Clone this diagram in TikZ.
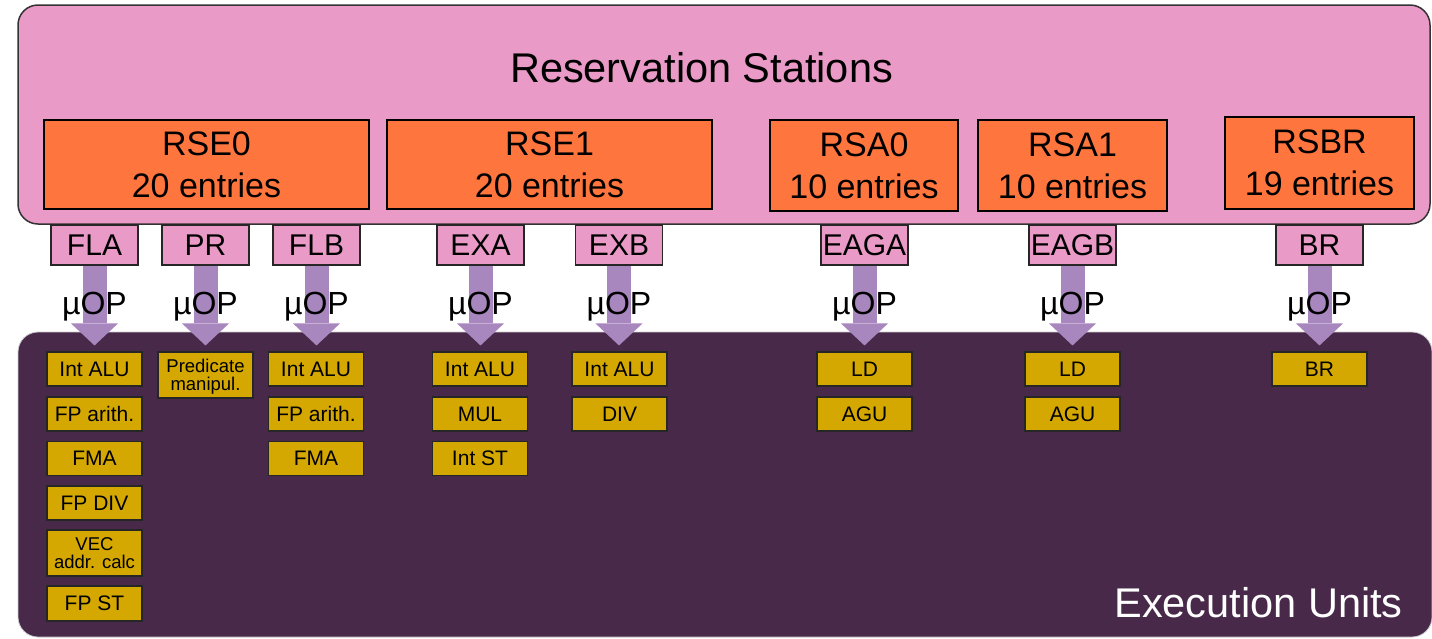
\documentclass[tikz,border=0pt]{standalone}
\usepackage{fontspec}
\setmainfont{Liberation Sans}
\usetikzlibrary{arrows.meta}
\definecolor{pinkbg}{RGB}{233,154,199}
\definecolor{rsorange}{RGB}{255,117,62}
\definecolor{arrowc}{RGB}{168,134,190}
\definecolor{darkp}{RGB}{73,41,74}
\definecolor{gold}{RGB}{212,168,0}
\begin{document}
\begin{tikzpicture}[x=1pt,y=-1pt,
  rsbox/.style={draw=black, line width=1.6pt, fill=rsorange, inner sep=0pt, align=center, font=\fontsize{34}{42}\selectfont},
  port/.style={draw=black!85, line width=1.3pt, fill=pinkbg, minimum width=87pt, minimum height=40pt, inner sep=0pt, font=\fontsize{30}{36}\selectfont},
  unit/.style={draw=black!85, line width=1.1pt, fill=gold, minimum width=95pt, minimum height=34pt, inner sep=0pt, align=center, font=\fontsize{21}{17}\selectfont},
  unitt/.style={unit, minimum height=46pt, font=\fontsize{18.5}{18.5}\selectfont, text depth=0pt},
  uop/.style={draw=arrowc, line width=24pt, -{Triangle[width=47pt,length=22pt,line width=0pt]}, shorten >=6pt},
  uoplbl/.style={font=\fontsize{32}{38}\selectfont, anchor=base, pos=0.575, inner sep=0pt, text=black}
]
\useasboundingbox (0,0) rectangle (1432,638);
% containers
\node[draw=black!80, line width=1.5pt, fill=pinkbg, rounded corners=20pt, minimum width=1412pt, minimum height=219pt, inner sep=0pt] (rsarea) at (724,114.5) {};
\node[draw=black!20, line width=0.8pt, fill=darkp, rounded corners=20pt, minimum width=1414pt, minimum height=305pt, inner sep=0pt] (euarea) at (725,484.5) {};
\node[font=\fontsize{41.5}{48}\selectfont, anchor=base, inner sep=0pt] (rstitle) at (701.5,82) {Reservation Stations};
\node[font=\fontsize{41.5}{48}\selectfont, text=white, anchor=base east, inner sep=0pt] (eutitle) at (1403,617) {Execution Units};
% reservation stations
\node[rsbox, minimum width=325pt, minimum height=89pt] (rse0) at (206.5,164.5) {RSE0\\20 entries};
\node[rsbox, minimum width=325pt, minimum height=89pt] (rse1) at (549.5,164.5) {RSE1\\20 entries};
\node[rsbox, minimum width=188pt, minimum height=91pt] (rsa0) at (864,165.5) {RSA0\\10 entries};
\node[rsbox, minimum width=189pt, minimum height=91pt] (rsa1) at (1072.5,165.5) {RSA1\\10 entries};
\node[rsbox, minimum width=189pt, minimum height=92pt] (rsbr) at (1319.5,163) {RSBR\\19 entries};
% ports
\node[port] (fla) at (94.5,245) {FLA};
\node[port] (pr) at (205.5,245) {PR};
\node[port] (flb) at (316.5,245) {FLB};
\node[port] (exa) at (480.5,245) {EXA};
\node[port] (exb) at (619,245) {EXB};
\node[port] (eaga) at (864.5,245) {EAGA};
\node[port] (eagb) at (1072.5,245) {EAGB};
\node[port] (br) at (1319.5,245) {BR};
% units
\node[unit] (fla1) at (94.5,369) {Int ALU};
\node[unit] (fla2) at (94.5,414) {FP arith.};
\node[unit] (fla3) at (94.5,458.5) {FMA};
\node[unit] (fla4) at (94.5,503) {FP DIV};
\node[unitt] (fla5) at (94.5,553) {VEC\\addr. calc};
\node[unit, minimum height=35pt] (fla6) at (94.5,603.5) {FP ST};
\node[unitt] (pr1) at (205.5,375) {Predicate\\manipul.};
\node[unit] (flb1) at (316,369) {Int ALU};
\node[unit] (flb2) at (316,414) {FP arith.};
\node[unit] (flb3) at (316,458.5) {FMA};
\node[unit] (exa1) at (480,369) {Int ALU};
\node[unit] (exa2) at (480,414) {MUL};
\node[unit] (exa3) at (480,458.5) {Int ST};
\node[unit] (exb1) at (619.5,369) {Int ALU};
\node[unit] (exb2) at (619.5,414) {DIV};
\node[unit] (eaga1) at (864.5,369) {LD};
\node[unit] (eaga2) at (864.5,414) {AGU};
\node[unit] (eagb1) at (1072.5,369) {LD};
\node[unit] (eagb2) at (1072.5,414) {AGU};
\node[unit] (br1) at (1319.5,369) {BR};
% uop arrows
\foreach \p/\u in {fla/fla1, pr/pr1, flb/flb1, exa/exa1, exb/exb1, eaga/eaga1, eagb/eagb1, br/br1}{
  \draw[uop] (\p.south) -- node[uoplbl]{µOP} (\p.south |- \u.north);
}
\end{tikzpicture}
\end{document}
